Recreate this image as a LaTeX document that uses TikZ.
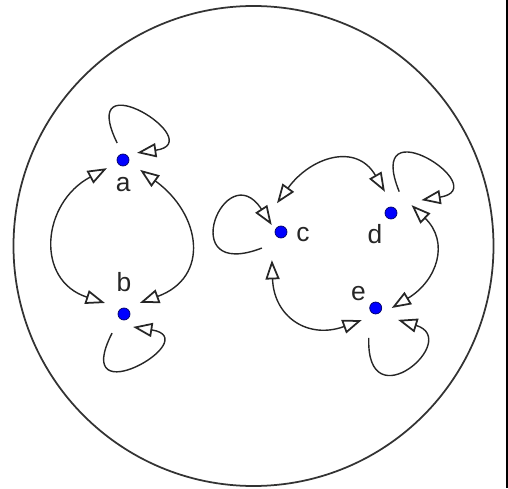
\documentclass[tikz,border=0pt]{standalone}
\usepackage{fontspec}
\setmainfont{Liberation Sans}
\usetikzlibrary{arrows.meta}

\begin{document}
\begin{tikzpicture}[x=0.02cm,y=0.02cm,
  >={Triangle[open,length=11pt,width=8pt,line width=1pt]},
  vtx/.style={circle,fill=blue,draw=blue!40!black,line width=0.4pt,minimum size=0.24cm,inner sep=0pt},
  lbl/.style={font=\fontsize{15}{18}\selectfont,text=black!85,inner sep=0pt},
  twoway/.style={draw=black!85,line width=0.8pt,<->},
  oneway/.style={draw=black!85,line width=0.8pt,->}]
 \useasboundingbox (0,0) rectangle (508,488);
 % outer boundary
 \draw[line width=1pt,black!80] (253.5,242) circle[radius=240];
 \fill[black] (506,0) rectangle (508,488);
 % vertices and names
 \node[vtx] (a) at (123,328) {};
 \node[vtx] (b) at (124,174) {};
 \node[vtx] (c) at (281,256) {};
 \node[vtx] (d) at (391,275) {};
 \node[vtx] (e) at (375.7,180) {};
 \node[lbl] (la) at (123.3,303.5) {a};
 \node[lbl] (lb) at (124,206) {b};
 \node[lbl] (lc) at (303,253) {c};
 \node[lbl] (ld) at (375,254) {d};
 \node[lbl] (le) at (358.5,194) {e};
 % left component
 \draw[twoway] ([shift={(207:18)}]a.center) to[out=208,in=162,looseness=1.4] ([shift={(150:22)}]b.center);
 \draw[twoway] ([shift={(-30:19.7)}]a.center) to[out=-36,in=20,looseness=1.45] ([shift={(35:19.4)}]b.center);
 \draw[oneway] ([shift={(109:18)}]a.center) to[out=116,in=8,out distance=1.9cm,in distance=1.5cm] ([shift={(27:15.7)}]a.center);
 \draw[oneway] ([shift={(238:22.5)}]b.center) to[out=243,in=-9,out distance=1.9cm,in distance=1.5cm] ([shift={(305:15.8)}]b.center);
 % right component
 \draw[twoway] ([shift={(98:29)}]c.center) to[out=54,in=120,looseness=1.35] ([shift={(106:22)}]d.center);
 \draw[twoway] ([shift={(252:29.5)}]c.center) to[out=-88,in=200,looseness=1.35] ([shift={(221:18.4)}]e.center);
 \draw[twoway] ([shift={(21:22)}]d.center) to[out=-44,in=31,looseness=1.3] ([shift={(0:16)}]e.center);
 \draw[oneway] ([shift={(220:25)}]c.center) to[out=201,in=123,out distance=1.9cm,in distance=1.7cm] ([shift={(143:11.6)}]c.center);
 \draw[oneway] ([shift={(69:22.9)}]d.center) to[out=112,in=9,out distance=1.9cm,in distance=1.5cm] ([shift={(23:33)}]d.center);
 \draw[oneway] ([shift={(257:30.7)}]e.center) to[out=268,in=-17,out distance=1.7cm,in distance=1.35cm] ([shift={(332:25.3)}]e.center);
\end{tikzpicture}
\end{document}
